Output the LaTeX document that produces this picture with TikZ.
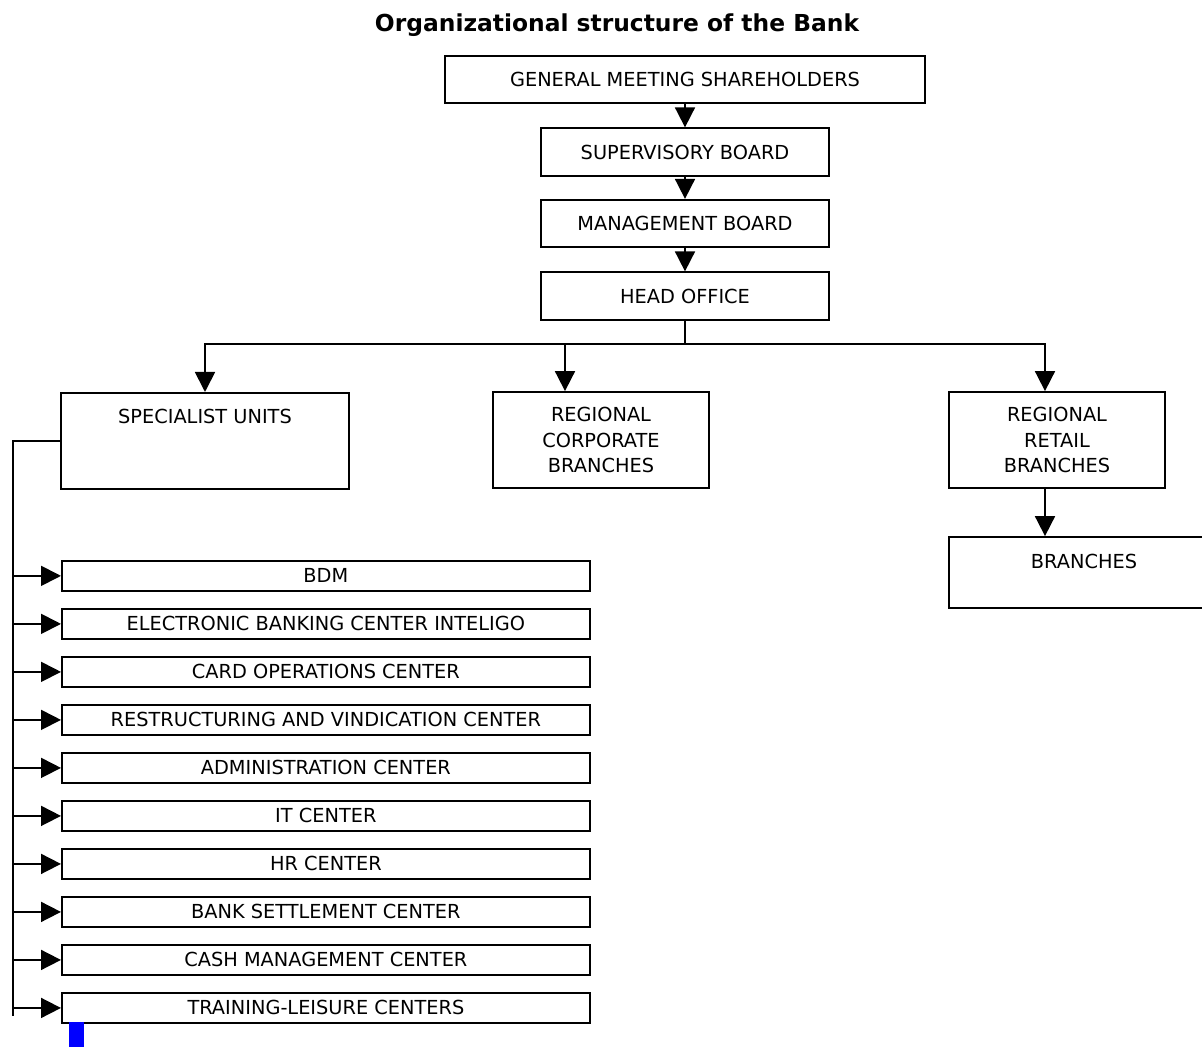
\documentclass[tikz,border=0pt]{standalone}
\usepackage{fontspec}
\setmainfont{DejaVu Sans}
\usepackage{xcolor}
\usepackage{tikz}
\usetikzlibrary{arrows.meta,positioning,calc}
\definecolor{linecol}{HTML}{000000}
\definecolor{markcol}{HTML}{0000FF}
\tikzset{
  orgbox/.style={
    rectangle, draw=linecol, line width=1pt,
    minimum width=#1, minimum height=0.95cm, inner sep=0pt,
    align=center, font=\fontsize{11}{14.6}\selectfont,
  },
  topbox/.style={
    rectangle, draw=linecol, line width=1pt,
    inner ysep=0pt, text height=0.62cm, text depth=#1,
    font=\fontsize{11}{14.2}\selectfont,
  },
  unitbox/.style={
    rectangle, draw=linecol, line width=1pt,
    minimum width=10.56cm, minimum height=0.6cm, inner sep=0pt,
    font=\fontsize{11}{14.2}\selectfont,
  },
  title/.style={font=\fontsize{13.3}{16}\selectfont\bfseries},
  arr/.style={-{Triangle[length=0.4cm, width=0.4cm]}, line width=1pt, linecol},
  conn/.style={line width=1pt, linecol},
}
\begin{document}
\begin{tikzpicture}[node distance=0.5cm and 1cm]
\useasboundingbox (0,0) rectangle (24.04,-20.94);

% ===== Title =====
\node[title] (title) at (12.34,-0.5) {Organizational structure of the Bank};

% ===== Governing bodies =====
\node[orgbox=9.6cm] (gms) at (13.7,-1.59) {GENERAL MEETING SHAREHOLDERS};
\node[orgbox=5.76cm, below=0.465cm of gms] (sup) {SUPERVISORY BOARD};
\node[orgbox=5.76cm, below=0.445cm of sup] (mgmt) {MANAGEMENT BOARD};
\node[orgbox=5.76cm, below=0.465cm of mgmt] (head) {HEAD OFFICE};

\draw[arr] (gms) -- (sup);
\draw[arr] (sup) -- (mgmt);
\draw[arr] (mgmt) -- (head);

% ===== Second level =====
\node[topbox=1.30cm, minimum width=5.76cm, anchor=north] (spec) at (4.1,-7.84) {SPECIALIST UNITS};
\node[orgbox=4.32cm, minimum height=1.92cm] (regcorp) at (12.02,-8.8) {REGIONAL\\CORPORATE\\BRANCHES};
\node[orgbox=4.32cm, minimum height=1.92cm] (retail) at (21.14,-8.8) {REGIONAL\\RETAIL\\BRANCHES};
\node[topbox=0.80cm, minimum width=5.4cm, below right=0.945cm and 0cm of retail.south west] (branches) {BRANCHES};

\coordinate[below=0.46cm of head.south] (bus);
\draw[conn] (head.south) -- (bus);
\draw[arr] (bus) -| (spec.north);
\draw[arr] (bus) -| ([xshift=-0.72cm]regcorp.north);
\draw[arr] (bus) -| ([xshift=-0.24cm]retail.north);
\draw[arr] ([xshift=-0.24cm]retail.south) -- ([xshift=-0.24cm]retail.south |- branches.north);

% ===== Specialist units =====
\node[unitbox, anchor=north west] (bdm) at (1.22,-11.2) {BDM};
\node[unitbox, below=0.325cm of bdm] (ebc) {ELECTRONIC BANKING CENTER INTELIGO};
\node[unitbox, below=0.325cm of ebc] (card) {CARD OPERATIONS CENTER};
\node[unitbox, below=0.325cm of card] (restr) {RESTRUCTURING AND VINDICATION CENTER};
\node[unitbox, below=0.325cm of restr] (admin) {ADMINISTRATION CENTER};
\node[unitbox, below=0.325cm of admin] (it) {IT CENTER};
\node[unitbox, below=0.325cm of it] (hr) {HR CENTER};
\node[unitbox, below=0.325cm of hr] (settle) {BANK SETTLEMENT CENTER};
\node[unitbox, below=0.325cm of settle] (cash) {CASH MANAGEMENT CENTER};
\node[unitbox, below=0.325cm of cash] (train) {TRAINING-LEISURE CENTERS};

\coordinate (lbus) at (0.26,-20.32);
\draw[conn] (spec.west) -| (lbus);
\draw[arr] (bdm.west -| lbus) -- (bdm.west);
\draw[arr] (ebc.west -| lbus) -- (ebc.west);
\draw[arr] (card.west -| lbus) -- (card.west);
\draw[arr] (restr.west -| lbus) -- (restr.west);
\draw[arr] (admin.west -| lbus) -- (admin.west);
\draw[arr] (it.west -| lbus) -- (it.west);
\draw[arr] (hr.west -| lbus) -- (hr.west);
\draw[arr] (settle.west -| lbus) -- (settle.west);
\draw[arr] (cash.west -| lbus) -- (cash.west);
\draw[arr] (train.west -| lbus) -- (train.west);

% blue marker under the last unit
\fill[markcol] (1.38,-20.44) rectangle (1.68,-20.94);

\end{tikzpicture}
\end{document}
